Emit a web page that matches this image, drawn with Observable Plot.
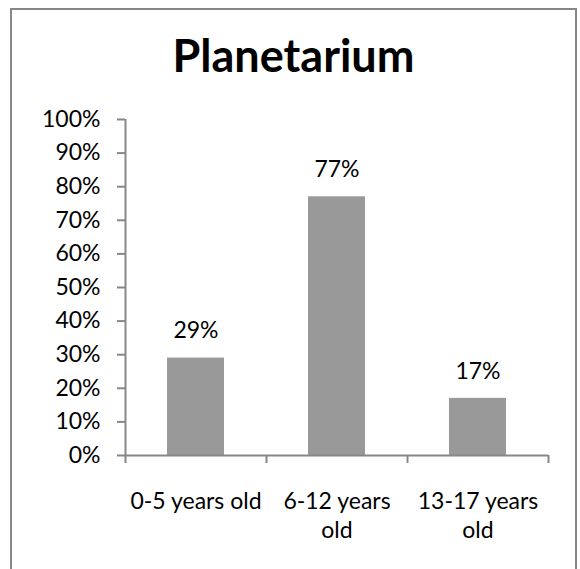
<!DOCTYPE html>
<html>
<head>
<meta charset="utf-8">
<script src="https://cdn.jsdelivr.net/npm/d3@7"></script>
<script src="https://cdn.jsdelivr.net/npm/@observablehq/plot@0.6"></script>
<style>
  html, body { margin: 0; padding: 0; background: #fff; overflow: hidden; }
  #wrap { position: relative; width: 580px; height: 569px; overflow: hidden; }
  #frame { position: absolute; left: 10px; top: 8px; width: 567px; height: 620px; box-sizing: border-box; border: 2px solid #878787; }
  #title { position: absolute; left: 10px; top: 33px; width: 567px; text-align: center; font-family: Lato, sans-serif; font-weight: bold; font-size: 45px; line-height: 45px; color: #000; }
  #chart { position: absolute; left: 0; top: 90px; }
</style>
</head>
<body>
<div id="wrap">
  <div id="frame"></div>
  <div id="title">Planetarium</div>
  <div id="chart"></div>
</div>
<script>
const categories = ["0-5 years old", "6-12 years old", "13-17 years old"];
const tickLabels = ["0-5 years old", "6-12 years\nold", "13-17 years\nold"];
const values = [29, 77, 17];
const yTicks = [0, 10, 20, 30, 40, 50, 60, 70, 80, 90, 100];

const data = categories.map((c, i) => ({category: c, value: values[i]}));

const W = 580, H = 479, mL = 125, mR = 32, mT = 29, mB = 114;
const step = (W - mL - mR) / categories.length;
const axisColor = "#878787";

const chart = Plot.plot({
  width: W,
  height: H,
  marginLeft: mL,
  marginRight: mR,
  marginTop: mT,
  marginBottom: mB,
  style: {fontFamily: "Lato, sans-serif", fontSize: "23px", color: "#000", background: "transparent"},
  x: {domain: categories, paddingInner: 0.596, paddingOuter: 0.298},
  y: {domain: [0, 100]},
  marks: [
    Plot.barY(data, {x: "category", y: "value", fill: "#999999"}),
    Plot.ruleY([0], {stroke: axisColor, strokeWidth: 2}),
    Plot.ruleX([categories[0]], {x: d => d, y1: 100, y2: 0, dx: -step / 2, insetBottom: -8, stroke: axisColor, strokeWidth: 2}),
    Plot.ruleX(categories, {x: d => d, y1: 0, y2: 0, dx: step / 2, insetBottom: -8, stroke: axisColor, strokeWidth: 2}),
    Plot.axisY({ticks: yTicks, tickFormat: d => d + "%", tickSize: 8, tickPadding: 17, stroke: axisColor, strokeWidth: 2, fill: "#000", label: null}),
    Plot.axisX({tickSize: 0, tickPadding: 33, tickFormat: d => tickLabels[categories.indexOf(d)], lineHeight: 1.25, fill: "#000", label: null}),
    Plot.text(data, {x: "category", y: "value", text: d => d.value + "%", dy: -27, fill: "#000"})
  ]
});
document.getElementById("chart").appendChild(chart);
</script>
</body>
</html>
